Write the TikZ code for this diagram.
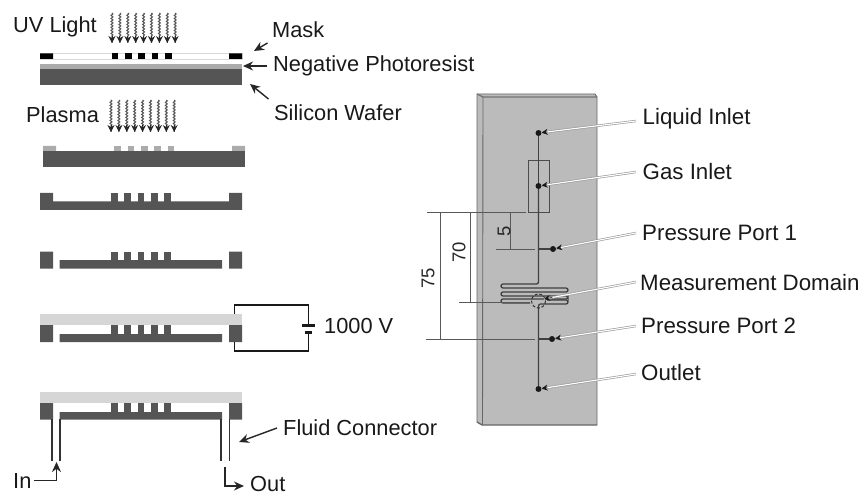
\documentclass[tikz,border=0pt]{standalone}
\usepackage{fontspec}
\setmainfont{Liberation Sans}
\usetikzlibrary{arrows.meta,decorations.pathmorphing,calc}
\definecolor{wafer}{HTML}{555555}
\definecolor{resist}{HTML}{ABABAB}
\definecolor{glass}{HTML}{D6D6D6}
\definecolor{plate}{HTML}{BBBBBB}
\tikzset{
 lab/.style={font=\fontsize{22.3}{24}\selectfont,text=black!90,inner sep=0pt,anchor=west},
 lableft/.style={font=\fontsize{21.8}{24}\selectfont,text=black!90,inner sep=0pt,anchor=west},
 dimtxt/.style={font=\fontsize{18.5}{20}\selectfont,text=black!85,inner sep=0pt,rotate=90},
 si/.style={fill=wafer,draw=none},
 res/.style={fill=resist,draw=none},
 gl/.style={fill=glass,draw=none},
 ptr/.style={-{Stealth[length=10pt,width=9pt]},line width=1.4pt,black!85},
 wave/.style={line width=1.1pt,black!65,decorate,decoration={snake,amplitude=.9pt,segment length=3pt,post length=6pt}},
 wavetip/.style={-{Stealth[length=7pt,width=7pt]},line width=1pt,black!85},
 wire/.style={line width=1.8pt,black!90},
 tube/.style={line width=1.8pt,black!80},
 dimline/.style={line width=.7pt,black!65},
 chan/.style={line width=1.2pt,black!75},
 dotn/.style={circle,fill=black!90,inner sep=0pt,minimum size=6pt},
 lead/.style={line width=2.4pt,black!40},
 leadin/.style={line width=1.1pt,white},
 ltip/.style={-{Stealth[length=6pt,width=6pt]},line width=.7pt,black!90},
}
\newcommand{\teeth}[4]{% x offset, top y, bottom y, style
 \foreach \a in {0,13.3,26.6,40,53.3}{\fill[#4] ({#1+\a},#2) rectangle ({#1+\a+6.6},#3);}}
\newcommand{\leader}[2]{% from coord, to node
 \draw[lead] (#1) -- (#2);
 \draw[leadin] (#1) -- (#2);
 \draw[ltip] ($(#2)!0.09!(#1)$) -- (#2);}
\begin{document}
\begin{tikzpicture}[x=1pt,y=-1pt]
\useasboundingbox (0,0) rectangle (861,494);
% --- UV and plasma
\foreach \i in {0,...,8}{
 \coordinate (u\i) at ({112+7.9*\i},13);
 \coordinate (ue\i) at ({112+7.9*\i},43);
 \draw[wave] (u\i) -- (ue\i);
 \draw[wavetip] ($(ue\i)+(0,-7)$) -- (ue\i);
 \coordinate (p\i) at ({111+7.9*\i},100);
 \coordinate (pe\i) at ({111+7.9*\i},132);
 \draw[wave] (p\i) -- (pe\i);
 \draw[wavetip] ($(pe\i)+(0,-7)$) -- (pe\i);
}
\node[lableft] (uv) at (13,27) {UV Light};
\node[lableft] (plasma) at (26,115) {Plasma};
% mask
\draw[black!15,line width=.4pt] (40,53) rectangle (242,59);
\fill[black] (40,53.5) rectangle (53,59) (229,53.5) rectangle (242,59);
\teeth{111.7}{53.5}{59}{black}
% wafer
\fill[res] (40,64) rectangle (242,69);
\fill[si] (40,69) rectangle (242,85.5);
% step 2
\fill[si] (43,151) rectangle (245,167.5);
\fill[res] (43,146) rectangle (56,151) (232,146) rectangle (245,151);
\teeth{114.3}{146}{151}{res}
% step 3
\fill[si] (40,193) rectangle (53,210) (229,193) rectangle (242,210) (53,201.5) rectangle (229,210);
\teeth{111}{193}{202}{si}
% step 4
\fill[si] (40,251.5) rectangle (53,268.5) (229,251.5) rectangle (242,268.5) (59.5,260) rectangle (222,268.5);
\teeth{111}{251.5}{261}{si}
% step 5
\fill[gl] (40,314) rectangle (242,325);
\fill[si] (40,325) rectangle (53,342) (229,325) rectangle (242,342) (59.5,334) rectangle (222,342);
\teeth{111}{325}{335}{si}
% battery
\coordinate (b1) at (234.5,314);
\coordinate (b2) at (308.5,325);
\coordinate (b3) at (308.5,332);
\coordinate (b4) at (234.5,342);
\draw[wire] (b1) -- (234.5,305) -- (308.5,305) -- (b2);
\draw[wire] (b3) -- (308.5,351) -- (234.5,351) -- (b4);
\draw[line width=2.2pt,black!90] (302,325.5) -- (315,325.5);
\draw[line width=2.2pt,black!90] (305,332.5) -- (312,332.5);
\node[lableft] (volt) at (324,326) {1000 V};
% step 6
\fill[gl] (40,392) rectangle (242,403);
\fill[si] (40,403) rectangle (53,419.5) (229,403) rectangle (242,419.5) (59.5,412) rectangle (222,419.5);
\teeth{111}{403}{413}{si}
\draw[tube] (52,419) -- (52,461);
\draw[tube] (60.3,419) -- (60.3,461);
\draw[tube] (221,419) -- (221,461);
\draw[tube] (229.5,419) -- (229.5,461);
% side labels
\node[lableft] (mask) at (272,30) {Mask};
\node[lableft] (neg) at (273,65.5) {Negative Photoresist};
\node[lableft] (sil) at (274,113) {Silicon Wafer};
\node[lableft] (fluid) at (283,428) {Fluid Connector};
\node[lableft] (in) at (13,481) {In};
\node[lableft] (out) at (250,484) {Out};
\coordinate (ma) at (254,51); \coordinate (na) at (243,66); \coordinate (sa) at (250,84); \coordinate (fa) at (239,442);
\draw[ptr] (267.5,43) -- (ma);
\draw[ptr] (267,66) -- (na);
\draw[ptr] (268.5,99) -- (sa);
\draw[ptr] (277,428) -- (fa);
\coordinate (ia) at (56.5,462); \coordinate (oa) at (244,486);
\draw[ptr] (33.5,480.5) -- (56.5,480.5) -- (ia);
\draw[ptr] (225,467) -- (225,486) -- (oa);
% --- plate
\fill[plate] (477,94) -- (595,94) -- (597,97) -- (597,425) -- (482,425) -- (477,422) -- cycle;
\draw[line width=.9pt,black!60] (477,422) -- (477,94) -- (595,94) -- (597,97) -- (597,425);
\draw[line width=1.3pt,black!60] (597,425) -- (482,425) -- (477,422);
\draw[line width=1.3pt,black!55] (477,94) -- (483,97) -- (597,97);
\draw[line width=.9pt,black!60] (483,97) -- (482.5,425);
% channel
\node[dotn] (d1) at (538.5,133) {};
\node[dotn] (d2) at (538.5,186) {};
\node[dotn] (d3) at (553,249) {};
\node[dotn] (d4) at (552,339) {};
\node[dotn] (d5) at (538.5,389) {};
\draw[line width=.8pt,black!70] (528,160) rectangle (549.5,212);
\draw[chan] (d1) -- (d2);
\draw[chan,line width=1.3pt,rounded corners=2pt] (d2) -- (538.5,284) -- (501,284) -- (501,288) -- (568,288) -- (568,292) -- (501,292) -- (501,296) -- (568,296) -- (568,299) -- (501,299) -- (501,303) -- (530,303);
\draw[chan,line width=1.3pt,rounded corners=2pt] (547,300) -- (568,300) -- (568,304) -- (538.5,304) -- (d5);
\draw[black!80,line width=1pt,dash pattern=on 3pt off 1.8pt] (538.5,301) circle (7);
\draw[chan,line width=1.3pt] (538.5,249) -- (d3);
\draw[chan,line width=1.3pt] (538.5,339) -- (d4);
% dims
\coordinate (t0) at (427,212);
\draw[dimline] (t0) -- (526,212);
\draw[dimline] (426,339) -- (535,339);
\draw[dimline] (459,302) -- (530,302);
\draw[dimline] (496,249) -- (535,249);
\draw[dimline] (440.5,212) -- (440.5,339);
\draw[dimline] (470.5,212) -- (470.5,302);
\draw[dimline] (510,212) -- (510,249);
\node[dimtxt] (n75) at (428,278) {75};
\node[dimtxt] (n70) at (459,252) {70};
\node[dimtxt] (n5) at (504,231) {5};
% right labels
\node[lab] (l1) at (642.5,119) {Liquid Inlet};
\node[lab] (l2) at (642.5,172) {Gas Inlet};
\node[lab] (l3) at (642,233) {Pressure Port 1};
\node[lab] (l4) at (640,283) {Measurement Domain};
\node[lab] (l5) at (641,326) {Pressure Port 2};
\node[lab] (l6) at (641,373) {Outlet};
\coordinate (s1) at (636,121); \coordinate (s2) at (636,172); \coordinate (s3) at (636,233);
\coordinate (s4) at (636,282); \coordinate (s5) at (636,326); \coordinate (s6) at (636,374);
\coordinate (m4) at (544,299);
\leader{s1}{d1}
\leader{s2}{d2}
\leader{s3}{d3}
\leader{s4}{m4}
\leader{s5}{d4}
\leader{s6}{d5}
\end{tikzpicture}
\end{document}
